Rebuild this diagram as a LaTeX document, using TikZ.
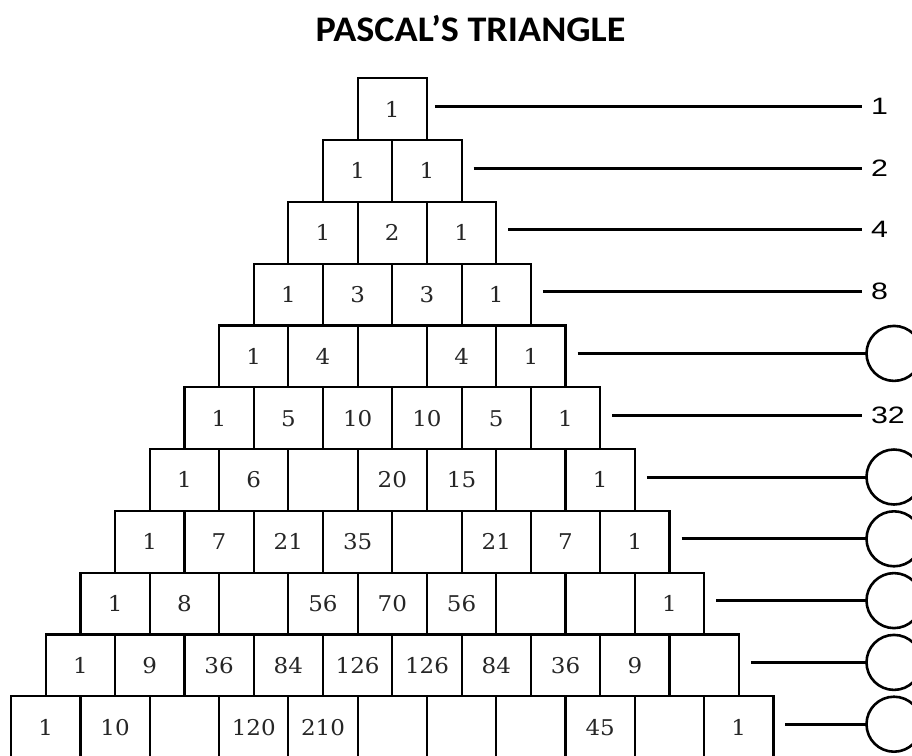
\documentclass[tikz,border=0pt]{standalone}
\usepackage{fontspec}
\usetikzlibrary{calc}
\newfontfamily\titlefont[FakeStretch=1.06]{Carlito}
\newfontfamily\numfont[FakeStretch=1.06]{DejaVu Serif}
\newfontfamily\labfont[FakeStretch=1.28]{Liberation Sans}
\definecolor{numgray}{HTML}{262626}
\tikzset{
  cell/.style={draw=black, line width=2.2pt, rectangle, minimum width=69.3pt, minimum height=61.8pt, inner sep=0pt, outer sep=0pt, text height=15.8pt, text depth=0pt, font=\numfont\fontsize{21.7}{23}\selectfont, text=numgray},
  conn/.style={line width=3pt, black},
  sumlab/.style={anchor=west, inner xsep=9pt, inner ysep=0pt, outer sep=0pt, font=\labfont\fontsize{23.7}{25}\selectfont},
  ring/.style={draw=black, line width=2.6pt, circle, minimum size=55pt, inner sep=0pt, outer sep=0pt},
  titlestyle/.style={font=\titlefont\bfseries\fontsize{36}{38}\selectfont, inner sep=0pt}
}
\begin{document}
\begin{tikzpicture}[x=1pt,y=-1pt]
\useasboundingbox (0,0) rectangle (912,755);
\clip (0,0) rectangle (912,755);
\fill[white] (0,0) rectangle (912,755);
\node[titlestyle] (title) at (470.5,29) {PASCAL’S TRIANGLE};
\foreach \r/\vals in {1/{1},2/{1,1},3/{1,2,1},4/{1,3,3,1},5/{1,4,{},4,1},6/{1,5,10,10,5,1},7/{1,6,{},20,15,{},1},8/{1,7,21,35,{},21,7,1},9/{1,8,{},56,70,56,{},{},1},10/{1,9,36,84,126,126,84,36,9,{}},11/{1,10,{},120,210,{},{},{},45,{},1}}{
  \foreach \v [count=\k] in \vals {
    \node[cell] (b-\r-\k) at ({392.3-\r*34.65+(\k-0.5)*69.3},{78.3+(\r-0.5)*61.8}) {\v};
  }
}
\foreach \r/\lab/\g in {1/1/8,2/2/12,3/4/12,4/8/12,6/32/12}{
  \coordinate (s-\r) at ($(b-\r-\r.east)+(\g,-3)$);
  \node[sumlab] (l-\r) at (862,{78.3+(\r-0.5)*61.8-3}) {\lab};
  \draw[conn] (s-\r) -- (l-\r.west);
}
\foreach \r in {5,7,8,9,10,11}{
  \coordinate (s-\r) at ($(b-\r-\r.east)+(12,-3)$);
  \node[ring] (c-\r) at (894,{78.3+(\r-0.5)*61.8-3}) {};
  \draw[conn] (s-\r) -- (c-\r.west);
}
\end{tikzpicture}
\end{document}
